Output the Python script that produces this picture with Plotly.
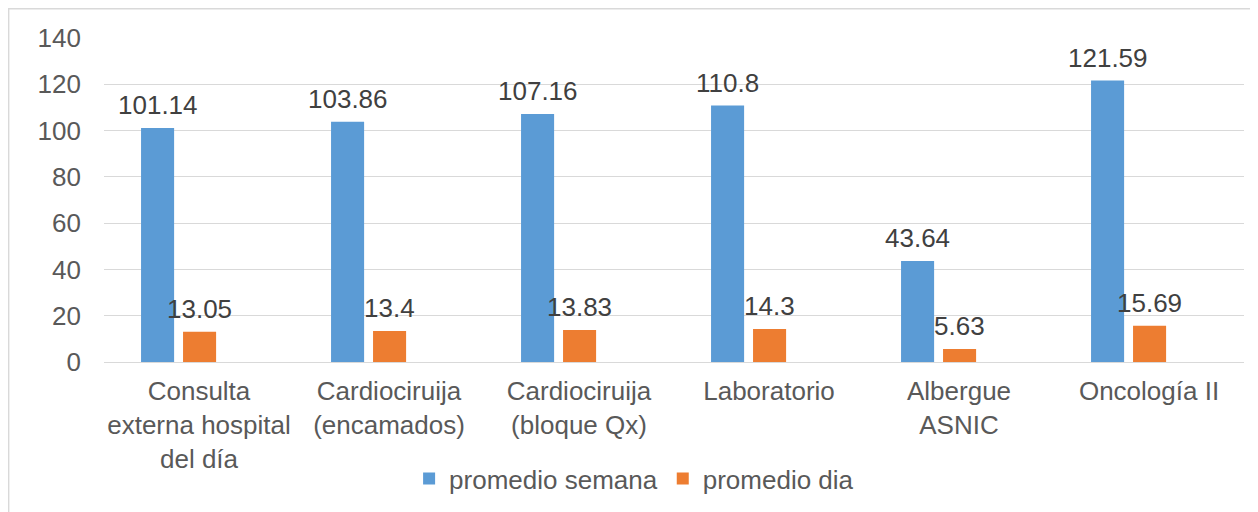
import plotly.graph_objects as go

categories = ["Consulta<br>externa hospital<br>del día", "Cardiociruija<br>(encamados)",
              "Cardiociruija<br>(bloque Qx)", "Laboratorio", "Albergue<br>ASNIC", "Oncología II"]
promedio_semana = [101.14, 103.86, 107.16, 110.8, 43.64, 121.59]
promedio_dia = [13.05, 13.4, 13.83, 14.3, 5.63, 15.69]
y_ticks = [0, 20, 40, 60, 80, 100, 120, 140]

FONT = "Liberation Sans, Arial, sans-serif"
BLUE = "#5b9bd5"
ORANGE = "#ed7d31"

# page body has an 8px default margin; compensate so the chart lands where the reference is
PAGE_OFF = 8
W, H = 1258 - PAGE_OFF, 512 - PAGE_OFF
ML, MR, MT, MB = 104 - PAGE_OFF, 14, 38 - PAGE_OFF, 150
cat_px = (W - ML - MR) / len(categories)
plot_w = W - ML - MR
plot_h = H - MT - MB

bar_w = 0.174
off_blue = -0.305
off_orange = -0.084

fig = go.Figure()
fig.add_trace(go.Bar(x=categories, y=promedio_semana, name="promedio semana",
                     marker=dict(color=BLUE, line=dict(width=0)),
                     width=bar_w, offset=off_blue))
fig.add_trace(go.Bar(x=categories, y=promedio_dia, name="promedio dia",
                     marker=dict(color=ORANGE, line=dict(width=0)),
                     width=bar_w, offset=off_orange))

annotations = []
for series, off in ((promedio_semana, off_blue), (promedio_dia, off_orange)):
    for c, v in zip(categories, series):
        annotations.append(dict(x=c, y=v, xref="x", yref="y", text=f"{v:g}",
                                showarrow=False, yanchor="bottom",
                                xshift=(off + bar_w / 2) * cat_px, yshift=6,
                                font=dict(family=FONT, size=26, color="#404040")))

fig.update_layout(
    width=W, height=H,
    margin=dict(l=ML, r=MR, t=MT, b=MB, autoexpand=False),
    paper_bgcolor="white", plot_bgcolor="white",
    barmode="overlay",
    font=dict(family=FONT, size=26, color="#595959"),
    annotations=annotations,
    showlegend=True,
    legend=dict(orientation="h", x=0.465, xanchor="center", y=-0.36, yanchor="middle",
                font=dict(family=FONT, size=26, color="#595959"),
                bgcolor="rgba(0,0,0,0)", traceorder="normal"),
    shapes=[dict(type="rect", xref="paper", yref="paper",
                 x0=(0.7 - ML) / plot_w, x1=1.2,
                 y0=-1.0, y1=(plot_h + MT - 0.7) / plot_h,
                 line=dict(color="#d9d9d9", width=1.4), fillcolor="rgba(0,0,0,0)",
                 layer="below")],
)
fig.update_xaxes(showgrid=False, showline=True, linecolor="#d9d9d9", linewidth=1.3,
                 ticks="", ticklabelstandoff=6,
                 tickfont=dict(family=FONT, size=26, color="#595959"))
fig.update_yaxes(range=[0, 140], tickvals=y_ticks, showgrid=True, gridcolor="#d9d9d9",
                 gridwidth=1.3, zeroline=False, showline=False, ticks="",
                 ticklabelstandoff=22,
                 tickfont=dict(family=FONT, size=26, color="#595959"))

fig.write_html("out.html")
